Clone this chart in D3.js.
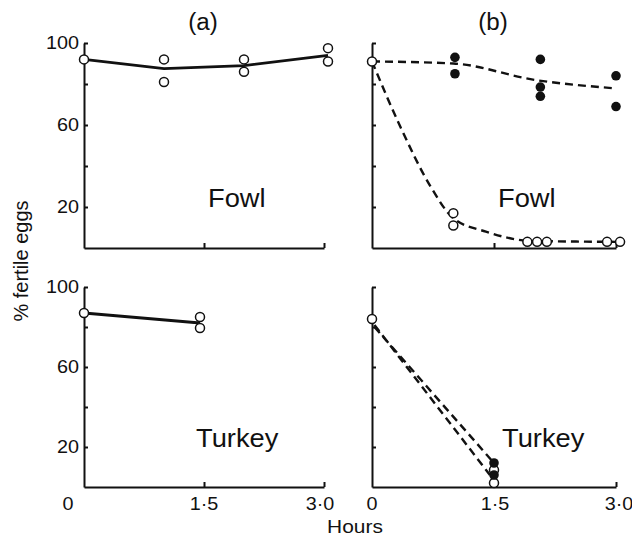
<!DOCTYPE html>
<html>
<head>
<meta charset="utf-8">
<script src="https://cdn.jsdelivr.net/npm/d3@7"></script>
<style>
  body { margin: 0; background: #fff; }
  text { font-family: "Liberation Sans", Arial, sans-serif; fill: #111; }
</style>
</head>
<body>
<svg id="chart" width="632" height="537"></svg>
<script>
// [hours, % fertile eggs]
const fowlA_open = [[0,92],[1,92],[1,81],[2,92],[2,86],[3.05,97.5],[3.05,91]];
const fowlA_fit = [[0,92],[1,87.5],[2,89],[3.05,94]];

const fowlB_filled = [[1.02,93],[1.02,85],[2.07,92],[2.07,78.5],[2.07,74],[3,84],[3,69]];
const fowlB_filledFit = [[0,91],[1,90],[2,82],[2.95,78]];
const fowlB_open = [[0,91],[1,17],[1,11],[1.91,3],[2.03,3],[2.15,3],[2.89,3],[3.05,3]];
const fowlB_openFit = [[0,91],[0.35,59],[0.72,30],[1,14.5],[1.4,8],[1.95,3.5],[3,3]];

const turkeyA_open = [[0,87],[1.45,85],[1.45,79.5]];
const turkeyA_fit = [[0,87],[1.45,82]];

const turkeyB_open = [[0,84],[1.5,8.5],[1.5,2]];
const turkeyB_filled = [[1.5,12],[1.5,6]];
const turkeyB_openFit = [[0.03,81],[1.45,6]];
const turkeyB_filledFit = [[0.03,80],[1.5,12]];

const yTicks = [20, 40, 60, 80, 100];
const yLabels = [100, 60, 20];
const xTicks = [1.5, 3];
const xLabels = [[0, "0"], [1.5, "1\u00b75"], [3, "3\u00b70"]];

const svg = d3.select("#chart");

// the scan's typeface runs a bit wide: stretch text horizontally
function label(g, x, y, str, size, anchor, sx) {
  g.append("text")
    .attr("transform", `translate(${x},${y}) scale(${sx},1)`)
    .attr("text-anchor", anchor)
    .style("font-size", size + "px")
    .text(str);
}

const panels = [
  {xr: [84, 324], yr: [248, 43], labelsY: true, labelsX: false, name: "Fowl", nx: 208, ny: 207,
   fits: [{d: fowlA_fit, dash: null}], open: fowlA_open, filled: []},
  {xr: [372, 616], yr: [248, 43], labelsY: false, labelsX: false, name: "Fowl", nx: 498, ny: 207,
   fits: [{d: fowlB_filledFit, dash: "8,5"}, {d: fowlB_openFit, dash: "8,5"}], open: fowlB_open, filled: fowlB_filled},
  {xr: [84, 324], yr: [487, 287], labelsY: true, labelsX: true, name: "Turkey", nx: 196, ny: 447, xdx: [-16, 0, -4],
   fits: [{d: turkeyA_fit, dash: null}], open: turkeyA_open, filled: []},
  {xr: [372, 616], yr: [487, 287], labelsY: false, labelsX: true, name: "Turkey", nx: 502, ny: 447, xdx: [0, 1, 3],
   fits: [{d: turkeyB_openFit, dash: "8,5"}, {d: turkeyB_filledFit, dash: "8,5"}], open: turkeyB_open, filled: turkeyB_filled},
];

panels.forEach(p => {
  const x = d3.scaleLinear().domain([0, 3]).range(p.xr);
  const y = d3.scaleLinear().domain([0, 100]).range(p.yr);
  const g = svg.append("g");

  // axes, ticks pointing inwards
  g.append("g")
    .attr("transform", `translate(${p.xr[0]},0)`)
    .call(d3.axisLeft(y).tickValues(yTicks).tickSizeInner(-4).tickSizeOuter(0).tickFormat(""))
    .call(a => a.selectAll("path, line").attr("stroke", "#111").attr("stroke-width", 2));
  g.append("g")
    .attr("transform", `translate(0,${p.yr[0]})`)
    .call(d3.axisBottom(x).tickValues(xTicks).tickSizeInner(-5).tickSizeOuter(0).tickFormat(""))
    .call(a => a.selectAll("path, line").attr("stroke", "#111").attr("stroke-width", 2));

  if (p.labelsY) {
    yLabels.forEach(v => label(g, 79, y(v) + 6, v, 18, "end", 1.1));
  }
  if (p.labelsX) {
    xLabels.forEach(([v, s], i) => label(g, x(v) + p.xdx[i], 510, s, 18, "middle", 1.1));
  }

  // solid fits are straight segments, dashed fits are drawn curves
  p.fits.forEach(f => {
    const line = d3.line().x(d => x(d[0])).y(d => y(d[1]))
      .curve(f.dash ? d3.curveMonotoneX : d3.curveLinear);
    g.append("path")
      .attr("d", line(f.d))
      .attr("fill", "none")
      .attr("stroke", "#111")
      .attr("stroke-width", f.dash ? 2.4 : 2.8)
      .attr("stroke-dasharray", f.dash);
  });

  g.selectAll(".open").data(p.open).join("circle")
    .attr("cx", d => x(d[0])).attr("cy", d => y(d[1])).attr("r", 4.5)
    .attr("fill", "#fff").attr("stroke", "#111").attr("stroke-width", 1.5);
  g.selectAll(".filled").data(p.filled).join("circle")
    .attr("cx", d => x(d[0])).attr("cy", d => y(d[1])).attr("r", 4.8)
    .attr("fill", "#111");

  label(g, p.nx, p.ny, p.name, 26, "start", 1.05);
});

label(svg, 203, 30, "(a)", 23, "middle", 1.05);
label(svg, 493, 30, "(b)", 23, "middle", 1.05);
label(svg, 355, 533, "Hours", 19, "middle", 1.1);

svg.append("text")
  .attr("transform", "translate(28,261) rotate(-90)")
  .attr("text-anchor", "middle")
  .style("font-size", "20px")
  .text("% fertile eggs");
</script>
</body>
</html>
